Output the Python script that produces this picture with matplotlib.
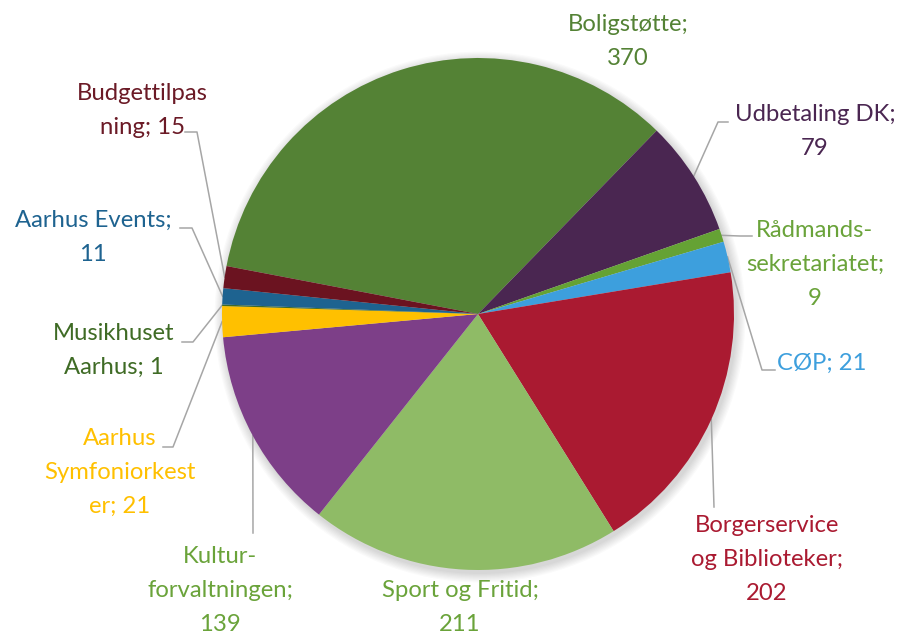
import numpy as np
import matplotlib.pyplot as plt
from matplotlib.patches import Circle

plt.rcParams['font.family'] = ['Lato', 'DejaVu Sans']

W, H = 899, 633

# data (clockwise order)
names = ['Boligstøtte', 'Udbetaling DK', 'Rådmandssekretariatet', 'CØP',
         'Borgerservice og Biblioteker', 'Sport og Fritid', 'Kulturforvaltningen',
         'Aarhus Symfoniorkester', 'Musikhuset Aarhus', 'Aarhus Events', 'Budgettilpasning']
values = [370, 79, 9, 21, 202, 211, 139, 21, 1, 11, 15]
label_texts = ['Boligstøtte;\n370', 'Udbetaling DK;\n79', 'Rådmands-\nsekretariatet;\n9', 'CØP; 21',
               'Borgerservice\nog Biblioteker;\n202', 'Sport og Fritid;\n211', 'Kultur-\nforvaltningen;\n139',
               'Aarhus\nSymfoniorkest\ner; 21', 'Musikhuset\nAarhus; 1', 'Aarhus Events;\n11',
               'Budgettilpas\nning; 15']
slice_colors = ['#548235', '#4A2651', '#65A234', '#3D9FDD', '#AA1A31', '#8FBB66',
                '#7D3F88', '#FFC000', '#3F6B25', '#1E6390', '#6B1320']
text_colors = ['#548235', '#4A2651', '#6AA33A', '#3D9FDD', '#AA1A31', '#6AA33A',
               '#6AA33A', '#FFC000', '#3F6B25', '#1E6390', '#6B1A26']

# label layout in pixels: (center x, top y), leader line points after the pie edge
label_pos = [(628, 14), (815, 104), (815, 220), (822, 353), (767, 515), (460, 580),
             (220, 546), (120, 428), (114, 323), (93, 210), (142, 83)]
leaders = [None, [(718, 122), (728, 122)], [(740, 236), (752, 236)], [(762, 370), (775, 370)],
           [(714, 507)], None, [(253, 533)], [(173, 447), (163, 447)],
           [(193, 342), (182, 342)], [(192, 228), (180, 228)], [(197, 132), (185, 132)]]

cx, cy, r = 478, 314, 256

fig = plt.figure(figsize=(W / 100, H / 100), dpi=100)
ax = fig.add_axes([0, 0, 1, 1])

# soft shadow
for i in range(8):
    ax.add_patch(Circle((cx + 2, H - cy - 3), r + 1 + i * 1.2, color='black',
                        alpha=0.018, lw=0, zorder=0))

wedges, _ = ax.pie(values, colors=slice_colors, startangle=169.2, counterclock=False,
                   center=(cx, H - cy), radius=r, wedgeprops=dict(linewidth=0))
for w in wedges:
    w.set_zorder(2)

for w, txt, col, pos, lead in zip(wedges, label_texts, text_colors, label_pos, leaders):
    ax.text(pos[0], H - pos[1], txt, color=col, fontsize=17.2, ha='center', va='top',
            linespacing=1.77, multialignment='center', zorder=3)
    if lead:
        mid = np.deg2rad((w.theta1 + w.theta2) / 2)
        xs = [cx + r * np.cos(mid)] + [p[0] for p in lead]
        ys = [H - cy + r * np.sin(mid)] + [H - p[1] for p in lead]
        ax.plot(xs, ys, color='#A6A6A6', lw=1.1, zorder=1)

ax.set_xlim(0, W)
ax.set_ylim(0, H)
ax.set_aspect('equal')
ax.axis('off')

fig.savefig('out.png', dpi=100)
